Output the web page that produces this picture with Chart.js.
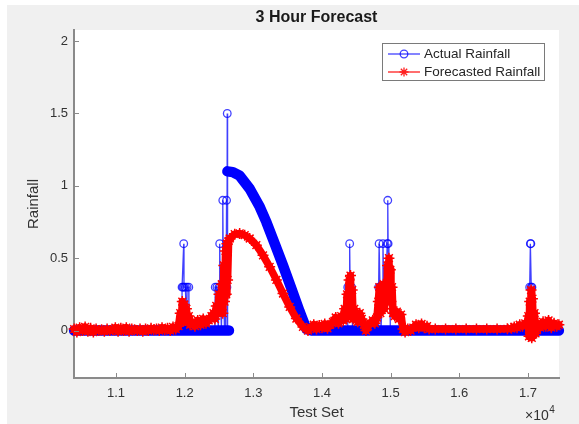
<!DOCTYPE html>
<html>
<head>
<meta charset="utf-8">
<title>3 Hour Forecast</title>
<script src="https://cdn.jsdelivr.net/npm/chart.js@4.4.1/dist/chart.umd.min.js"></script>
<style>
  html, body { margin: 0; padding: 0; background: #fff; }
  canvas { display: block; }
</style>
</head>
<body>
<canvas id="chart" width="579" height="424"></canvas>
<script>
const xTicks = [11000, 12000, 13000, 14000, 15000, 16000, 17000];
const yTicks = [0, 0.5, 1, 1.5, 2];

// actual rainfall, the dense part: zero baseline and the long hump
const actualBandX = [10390, 12645, 12640, 12622, 12700, 12801, 12947, 13093, 13190, 13311, 13432, 13554, 13675, 13773, 13850, 17450];
const actualBandY = [0, 0, null, 1.1, 1.095, 1.07, 0.98, 0.855, 0.75, 0.6, 0.45, 0.29, 0.13, 0.01, 0, 0];

// actual rainfall, the short spikes (null = break between clusters)
const actualSpikeX = [
  11960, 11962, 11975, 11986, 11990, 12010, 12030, 12035, 12060, 12062,
  12100,
  12440, 12445, 12470, 12490, 12500, 12510, 12520, 12535, 12545, 12555, 12565, 12580, 12590, 12600, 12610, 12615, 12620, 12625,
  14300,
  14370, 14375, 14395, 14403, 14410, 14430, 14445,
  14600,
  14820, 14825, 14832, 14845, 14860, 14880, 14888, 14900, 14930, 14950, 14958, 14963, 14975, 14990, 14995,
  16900,
  17020, 17025, 17035, 17042, 17048, 17058, 17062
];
const actualSpikeY = [
  0, 0.3, 0.3, 0.6, 0.3, 0.3, 0, 0.3, 0.3, 0,
  null,
  0, 0.3, 0.3, 0, 0.3, 0.6, 0.3, 0, 0.3, 0.9, 0.3, 0, 0.3, 0, 0.9, 0.3, 1.5, 0,
  null,
  0, 0.3, 0.3, 0.6, 0.3, 0.3, 0,
  null,
  0, 0.3, 0.6, 0.3, 0, 0.3, 0.6, 0.3, 0.3, 0.6, 0.9, 0.6, 0.3, 0.3, 0,
  null,
  0, 0.3, 0.6, 0.6, 0.3, 0.3, 0
];

const forecastX = [
  10390, 10430, 10470, 10510, 10550, 10590, 10630, 10670, 10710, 10750,
  10790, 10830, 10870, 10910, 10950, 10990, 11030, 11070, 11110, 11150,
  11190, 11230, 11270, 11310, 11350, 11390, 11430, 11470, 11510, 11550,
  11590, 11630, 11670, 11710, 11750, 11790, 11830, 11870,
  11910, 11935, 11950, 11965, 11980, 11995, 12010, 12025, 12040, 12060, 12080,
  12110, 12150, 12190, 12230, 12270, 12310, 12350, 12390,
  12420, 12440, 12460, 12480, 12500, 12520, 12540,
  12555, 12570, 12580, 12595, 12605, 12615, 12625, 12640,
  12656, 12729, 12801, 12874, 12947, 13044, 13141, 13238, 13336, 13432, 13530, 13627, 13723, 13796,
  13840, 13880, 13920, 13960, 14000, 14040, 14080, 14120, 14160, 14200, 14240, 14280, 14310,
  14330, 14350, 14365, 14380, 14395, 14405, 14415, 14425, 14440, 14455, 14470,
  14490, 14520, 14550, 14580, 14610, 14640, 14670, 14700, 14740, 14770, 14800,
  14820, 14835, 14850, 14865, 14880, 14895, 14910, 14925, 14940, 14955, 14965, 14975, 14985, 14995, 15005, 15020, 15035,
  15060, 15090, 15120, 15150, 15180, 15210, 15250, 15290, 15330, 15370, 15410, 15450, 15490, 15530, 15560,
  15650, 15800, 15950, 16100, 16250, 16400, 16550, 16700,
  16760, 16800, 16840, 16880, 16920, 16960, 16990,
  17005, 17015, 17025, 17035, 17045, 17055, 17065, 17080, 17095, 17110,
  17140, 17180, 17220, 17260, 17300, 17340, 17380, 17420, 17450
];
const forecastY = [
  0.01, -0.01, 0.02, 0.0, 0.025, -0.005, 0.015, -0.01, 0.01, 0.0,
  0.005, -0.005, 0.01, 0.0, 0.005, 0.02, -0.005, 0.015, 0.0, 0.02,
  -0.005, 0.01, 0.005, 0.0, 0.01, -0.005, 0.01, 0.0, 0.015, 0.005,
  0.01, 0.0, 0.02, 0.005, 0.015, 0.0, 0.025, 0.01,
  0.03, 0.12, 0.06, 0.2, 0.1, 0.18, 0.08, 0.15, 0.06, 0.1, 0.04,
  0.06, 0.03, 0.07, 0.04, 0.08, 0.05, 0.07, 0.1,
  0.12, 0.08, 0.17, 0.12, 0.25, 0.15, 0.32,
  0.12, 0.45, 0.2, 0.55, 0.25, 0.6, 0.35, 0.62,
  0.636, 0.666, 0.671, 0.659, 0.636, 0.59, 0.52, 0.44, 0.35, 0.256, 0.163, 0.083, 0.025, 0.0,
  0.02, 0.04, 0.01, 0.035, 0.02, 0.045, 0.015, 0.04, 0.06, 0.09, 0.05, 0.1, 0.07,
  0.15, 0.08, 0.25, 0.12, 0.35, 0.2, 0.38, 0.15, 0.28, 0.08, 0.15,
  0.1, 0.06, 0.12, 0.08, 0.04, 0.0, 0.03, 0.05, 0.07, 0.05, 0.09,
  0.2, 0.3, 0.12, 0.28, 0.18, 0.32, 0.15, 0.3, 0.2, 0.45, 0.25, 0.5, 0.3, 0.42, 0.2, 0.3, 0.12,
  0.1, 0.13, 0.08, 0.11, 0.01, -0.01, 0.01, 0.0, 0.02, 0.04, 0.02, 0.045, 0.02, 0.03, 0.01,
  0.01, 0.01, 0.01, 0.01, 0.01, 0.01, 0.01, 0.012,
  0.015, 0.025, 0.02, 0.04, 0.03, 0.05, 0.04,
  0.1, -0.04, 0.2, 0.02, 0.28, -0.05, 0.22, 0.0, 0.12, -0.02,
  0.05, 0.02, 0.06, 0.03, 0.07, 0.02, 0.05, 0.03, 0.04
];

const FONT = "'Liberation Sans', Arial, sans-serif";
const AXIS_GRAY = "#8a8a8a";

function toPoints(xs, ys) {
  return xs.map((x, i) => ({ x, y: ys[i] }));
}

function drawStar(ctx, x, y, r) {
  const d = r * Math.SQRT1_2;
  ctx.beginPath();
  ctx.moveTo(x - r, y); ctx.lineTo(x + r, y);
  ctx.moveTo(x, y - r); ctx.lineTo(x, y + r);
  ctx.moveTo(x - d, y - d); ctx.lineTo(x + d, y + d);
  ctx.moveTo(x - d, y + d); ctx.lineTo(x + d, y - d);
  ctx.stroke();
}

const figurePlugin = {
  id: "figure",
  beforeDraw(chart) {
    const { ctx, chartArea: a } = chart;
    ctx.save();
    ctx.fillStyle = "#ffffff";
    ctx.fillRect(0, 0, chart.width, chart.height);
    ctx.fillStyle = "#f0f0f0";
    ctx.fillRect(7, 5, chart.width - 7, chart.height - 5);
    ctx.fillStyle = "#ffffff";
    ctx.fillRect(a.left, a.top, a.right - a.left, a.bottom - a.top);
    ctx.restore();
  },
  afterDraw(chart) {
    const { ctx, chartArea: a } = chart;
    const xs = chart.scales.x;
    const ys = chart.scales.y;
    ctx.save();

    // inward tick marks
    ctx.strokeStyle = AXIS_GRAY;
    ctx.lineWidth = 1;
    ctx.beginPath();
    xTicks.forEach(v => {
      const px = Math.round(xs.getPixelForValue(v)) + 0.5;
      ctx.moveTo(px, a.bottom);
      ctx.lineTo(px, a.bottom - 5);
    });
    yTicks.forEach(v => {
      const py = Math.round(ys.getPixelForValue(v)) + 0.5;
      ctx.moveTo(a.left, py);
      ctx.lineTo(a.left + 5, py);
    });
    ctx.stroke();

    // title and axis labels
    ctx.fillStyle = "#1a1a1a";
    ctx.textAlign = "center";
    ctx.textBaseline = "middle";
    ctx.font = "bold 16px " + FONT;
    ctx.fillText("3 Hour Forecast", (a.left + a.right) / 2, 18);

    ctx.fillStyle = "#333333";
    ctx.font = "15px " + FONT;
    ctx.fillText("Test Set", (a.left + a.right) / 2, 413);
    ctx.save();
    ctx.translate(34, 204);
    ctx.rotate(-Math.PI / 2);
    ctx.fillText("Rainfall", 0, 0);
    ctx.restore();

    ctx.textAlign = "left";
    ctx.font = "14px " + FONT;
    ctx.fillText("\u00d710", 525, 416);
    const w = ctx.measureText("\u00d710").width;
    ctx.font = "10px " + FONT;
    ctx.fillText("4", 525 + w + 0.5, 410);

    // legend
    const lx = 382.5, ly = 43.5, lw = 162, lh = 37;
    ctx.fillStyle = "#ffffff";
    ctx.fillRect(lx, ly, lw, lh);
    ctx.strokeStyle = "#7a7a7a";
    ctx.lineWidth = 1;
    ctx.strokeRect(lx, ly, lw, lh);

    ctx.lineWidth = 1.3;
    ctx.strokeStyle = "rgba(0,0,255,0.75)";
    ctx.beginPath();
    ctx.moveTo(388, 54); ctx.lineTo(420, 54);
    ctx.stroke();
    ctx.beginPath();
    ctx.arc(404, 54, 3.8, 0, Math.PI * 2);
    ctx.stroke();

    ctx.strokeStyle = "#ff2020";
    ctx.beginPath();
    ctx.moveTo(388, 72); ctx.lineTo(420, 72);
    ctx.stroke();
    drawStar(ctx, 404, 72, 4.5);

    ctx.fillStyle = "#262626";
    ctx.font = "13.5px " + FONT;
    ctx.textBaseline = "middle";
    ctx.fillText("Actual Rainfall", 424, 54);
    ctx.fillText("Forecasted Rainfall", 424, 72);

    ctx.restore();
  }
};

new Chart(document.getElementById("chart"), {
  type: "line",
  data: {
    datasets: [
      {
        label: "Forecasted Rainfall",
        data: toPoints(forecastX, forecastY),
        order: 0,
        borderColor: "#ff0000",
        borderWidth: 7.5,
        borderJoinStyle: "round",
        borderCapStyle: "round",
        pointStyle: "star",
        pointRadius: 5.5,
        pointBorderWidth: 1.5,
        pointBorderColor: "#ff0000",
        pointBackgroundColor: "#ff0000",
        clip: 8
      },
      {
        label: "Actual Rainfall",
        data: toPoints(actualSpikeX, actualSpikeY),
        order: 1,
        borderColor: "rgba(0,0,255,0.75)",
        borderWidth: 1.3,
        pointStyle: "circle",
        pointRadius: 3.8,
        pointBorderWidth: 1.3,
        pointBorderColor: "rgba(0,0,255,0.75)",
        pointBackgroundColor: "rgba(0,0,0,0)",
        clip: 8
      },
      {
        label: "Actual Rainfall band",
        data: toPoints(actualBandX, actualBandY),
        order: 2,
        borderColor: "#0000ff",
        borderWidth: 10.5,
        borderJoinStyle: "round",
        borderCapStyle: "round",
        pointRadius: 0,
        clip: 8
      }
    ]
  },
  options: {
    responsive: false,
    animation: false,
    events: [],
    devicePixelRatio: 1,
    layout: { autoPadding: false, padding: { top: 30, right: 20, left: 0, bottom: 0 } },
    plugins: {
      legend: { display: false },
      title: { display: false },
      tooltip: { enabled: false }
    },
    scales: {
      x: {
        type: "linear",
        min: 10388,
        max: 17452,
        afterBuildTicks: scale => { scale.ticks = xTicks.map(v => ({ value: v })); },
        afterFit: scale => { scale.height = 46; },
        grid: { display: false, drawTicks: false },
        border: { display: true, color: AXIS_GRAY, width: 2 },
        ticks: {
          callback: v => (v / 10000).toFixed(1),
          color: "#333333",
          font: { family: FONT, size: 13 },
          padding: 8,
          maxRotation: 0,
          autoSkip: false
        }
      },
      y: {
        type: "linear",
        min: -0.328,
        max: 2.077,
        afterBuildTicks: scale => { scale.ticks = yTicks.map(v => ({ value: v })); },
        afterFit: scale => { scale.width = 74; },
        grid: { display: false, drawTicks: false },
        border: { display: true, color: AXIS_GRAY, width: 2 },
        ticks: {
          callback: v => String(v),
          color: "#333333",
          font: { family: FONT, size: 13 },
          padding: 6,
          autoSkip: false
        }
      }
    }
  },
  plugins: [figurePlugin]
});
</script>
</body>
</html>
